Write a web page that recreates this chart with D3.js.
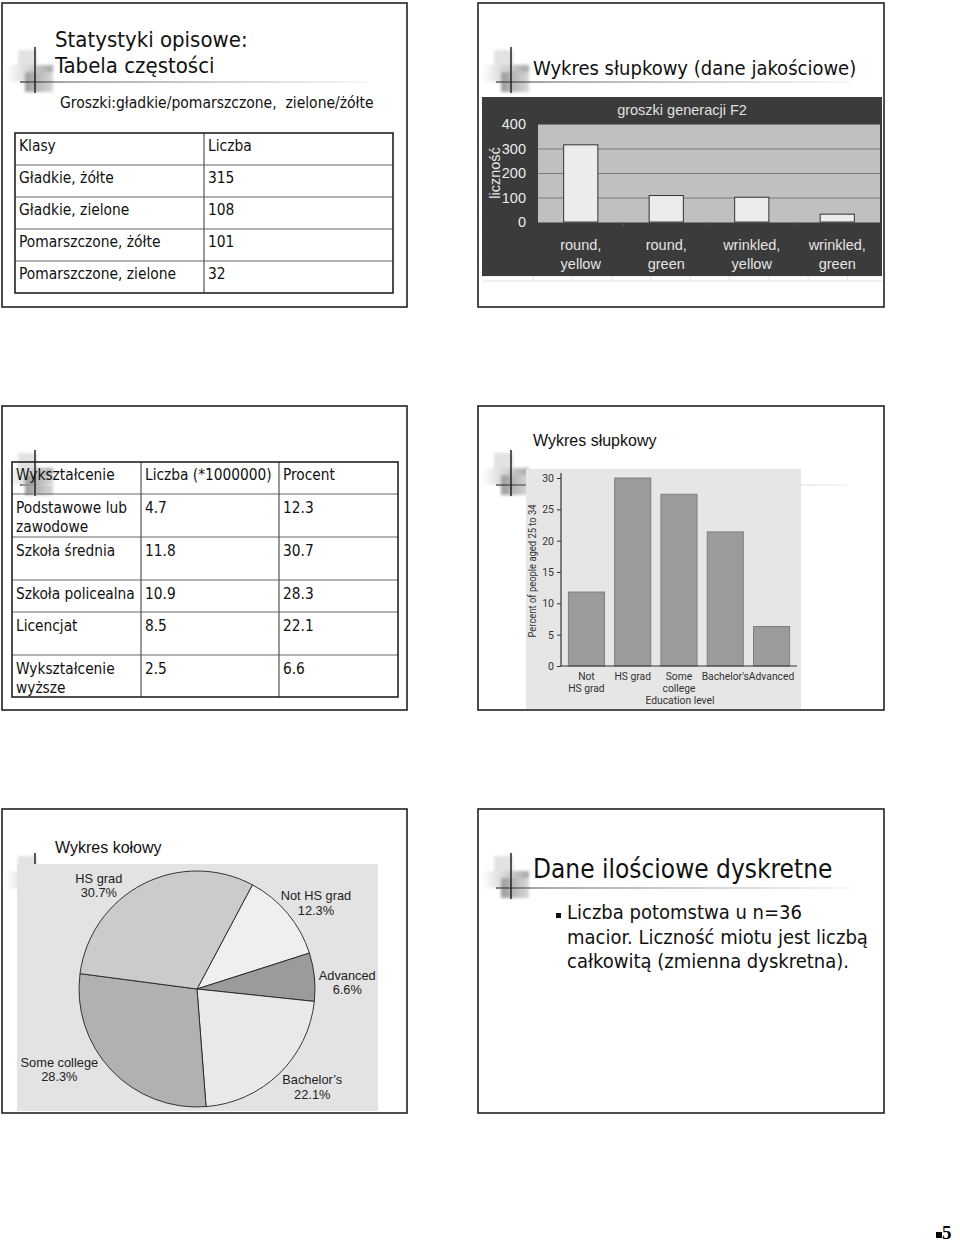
<!DOCTYPE html>
<html><head><meta charset="utf-8">
<script src="https://cdn.jsdelivr.net/npm/d3@7"></script>
<style>body{margin:0;background:#fff}svg{display:block}</style>
</head><body>
<svg id="c" width="960" height="1242"></svg>
<script>
// ---------- data ----------
const peaClassHeader = ["Klasy", "Liczba"];
const peaClasses = ["Gładkie, żółte", "Gładkie, zielone", "Pomarszczone, żółte", "Pomarszczone, zielone"];
const peaCounts = [315, 108, 101, 32];
const peaBarLabels = [["round,", "yellow"], ["round,", "green"], ["wrinkled,", "yellow"], ["wrinkled,", "green"]];
const peaTicks = [0, 100, 200, 300, 400];

const eduHeader = ["Wykształcenie", "Liczba (*1000000)", "Procent"];
const eduRows = [["Podstawowe lub", "zawodowe"], ["Szkoła średnia"], ["Szkoła policealna"], ["Licencjat"], ["Wykształcenie", "wyższe"]];
const eduCounts = ["4.7", "11.8", "10.9", "8.5", "2.5"];
const eduPercents = ["12.3", "30.7", "28.3", "22.1", "6.6"];

const barLevels = [["Not", "HS grad"], ["HS grad"], ["Some", "college"], ["Bachelor's"], ["Advanced"]];
const barValues = [11.8, 30.0, 27.4, 21.4, 6.3];
const barTicks = [0, 5, 10, 15, 20, 25, 30];

const pieNames = ["Not HS grad", "Advanced", "Bachelor’s", "Some college", "HS grad"];
const pieValues = [12.3, 6.6, 22.1, 28.3, 30.7];
const pieColors = ["#efefef", "#9b9b9b", "#e9e9e9", "#b1b1b1", "#cbcbcb"];

const discreteTitle = "Dane ilościowe dyskretne";
const discreteText = ["Liczba potomstwa u n=36", "macior. Liczność miotu jest liczbą", "całkowitą (zmienna dyskretna)."];

// ---------- fonts ----------
const TAH = "'DejaVu Sans Condensed','DejaVu Sans',sans-serif";
const ARI = "'Liberation Sans',Arial,sans-serif";
const MYR = "Roboto,'Liberation Sans',Arial,sans-serif";

const svg = d3.select("#c");
const defs = svg.append("defs");
defs.append("filter").attr("id", "blur").attr("x", "-20%").attr("y", "-20%").attr("width", "140%").attr("height", "140%")
  .append("feGaussianBlur").attr("stdDeviation", 1.6);
const g1 = defs.append("linearGradient").attr("id", "fadeLine");
g1.append("stop").attr("offset", "0").attr("stop-color", "#333");
g1.append("stop").attr("offset", "0.15").attr("stop-color", "#777");
g1.append("stop").attr("offset", "1").attr("stop-color", "#f2f2f2");
const g2 = defs.append("linearGradient").attr("id", "fadeBand");
g2.append("stop").attr("offset", "0").attr("stop-color", "#fff");
g2.append("stop").attr("offset", "1").attr("stop-color", "#a8a8a8");
const g3 = defs.append("linearGradient").attr("id", "fadeDark");
g3.append("stop").attr("offset", "0").attr("stop-color", "#9c9c9c");
g3.append("stop").attr("offset", "1").attr("stop-color", "#d8d8d8");

function frame(x, y, w, h) {
  svg.append("rect").attr("x", x).attr("y", y).attr("width", w).attr("height", h)
    .attr("fill", "none").attr("stroke", "#222").attr("stroke-width", 1.6);
}
function decor(vx, hy, x2) {
  const d = svg.append("g");
  const b = d.append("g").attr("filter", "url(#blur)");
  b.append("rect").attr("x", vx - 17).attr("y", hy - 32).attr("width", 19).attr("height", 22).attr("fill", "#e2e2e2");
  b.append("rect").attr("x", vx - 29).attr("y", hy - 17).attr("width", 47).attr("height", 17).attr("fill", "url(#fadeBand)");
  b.append("rect").attr("x", vx - 10).attr("y", hy - 10).attr("width", 28).attr("height", 20).attr("fill", "url(#fadeDark)");
  d.append("rect").attr("x", vx - 15).attr("y", hy - 0.6).attr("width", x2 - vx + 15).attr("height", 1.2).attr("fill", "url(#fadeLine)");
  d.append("line").attr("x1", vx).attr("x2", vx).attr("y1", hy - 35).attr("y2", hy + 11).attr("stroke", "#222").attr("stroke-width", 1.5);
}
function text(x, y, s, size, font, opts = {}) {
  return svg.append("text").attr("x", x).attr("y", y).text(s)
    .attr("font-size", size).attr("font-family", font)
    .attr("fill", opts.fill || "#111").attr("text-anchor", opts.anchor || "start");
}

// ================= Slide 1 =================
frame(2, 3, 405, 304);
decor(35, 82, 367);
text(55, 47, "Statystyki opisowe:", 22, TAH);
text(55, 73, "Tabela częstości", 22, TAH);
text(60, 108, "Groszki:gładkie/pomarszczone,\u00a0 zielone/żółte", 15.5, TAH);
{
  const rows = [peaClassHeader].concat(peaClasses.map((c, i) => [c, String(peaCounts[i])]));
  const ry = d3.scaleBand().domain(d3.range(rows.length)).range([133, 293]);
  const cx = [15, 204, 393];
  const t = svg.append("g");
  ry.domain().slice(1).forEach(i => t.append("line").attr("x1", 15).attr("x2", 393).attr("y1", ry(i)).attr("y2", ry(i)).attr("stroke", "#666").attr("stroke-width", 1.2));
  t.append("line").attr("x1", 204).attr("x2", 204).attr("y1", 133).attr("y2", 293).attr("stroke", "#555").attr("stroke-width", 1.2);
  t.append("rect").attr("x", 15).attr("y", 133).attr("width", 378).attr("height", 160).attr("fill", "none").attr("stroke", "#222").attr("stroke-width", 1.6);
  rows.forEach((r, i) => r.forEach((s, j) => text(cx[j] + 4, ry(i) + 18, s, 15.4, TAH)));
}

// ================= Slide 2 =================
frame(478, 3, 406, 304);
decor(511, 82, 850);
text(533, 75, "Wykres słupkowy (dane jakościowe)", 20, TAH);
{
  const sg = svg.append("g").attr("stroke", "#e4e4e4");
  [276, 281].forEach(y => sg.append("line").attr("x1", 482).attr("x2", 882).attr("y1", y).attr("y2", y));
  d3.range(9).forEach(i => { const x = 533 + i * 39.3; sg.append("line").attr("x1", x).attr("x2", x).attr("y1", 276).attr("y2", 282); });
  [104, 128, 152, 176, 200, 224, 248, 272].forEach(y => sg.append("line").attr("x1", 479).attr("x2", 482).attr("y1", y).attr("y2", y));

  svg.append("rect").attr("x", 482).attr("y", 97).attr("width", 400).attr("height", 179).attr("fill", "#3b3b3b");
  const x = d3.scaleBand().domain(d3.range(peaCounts.length)).range([538, 880]).paddingInner(0.6).paddingOuter(0.3);
  const y = d3.scaleLinear().domain([0, 400]).range([222, 124]);
  svg.append("rect").attr("x", 538).attr("y", y(400)).attr("width", 342).attr("height", y(0) - y(400)).attr("fill", "#c0c0c0");
  const ax = svg.append("g").attr("transform", "translate(538,0)")
    .call(d3.axisLeft(y).tickValues(peaTicks).tickSize(-342).tickPadding(12));
  ax.select(".domain").remove();
  ax.selectAll(".tick line").attr("stroke", "#7a7a7a").attr("stroke-width", 1);
  ax.selectAll(".tick text").attr("fill", "#ececec").attr("font-size", 14.5).attr("font-family", ARI);
  d3.range(1, peaCounts.length).forEach(i => {
    const sx = x(i) - x.step() * x.paddingInner() / 2;
    svg.append("line").attr("x1", sx).attr("x2", sx).attr("y1", 222).attr("y2", 226).attr("stroke", "#555");
  });
  svg.append("g").selectAll("rect").data(peaCounts).join("rect")
    .attr("x", (d, i) => x(i)).attr("y", d => y(d)).attr("width", x.bandwidth()).attr("height", d => y(0) - y(d))
    .attr("fill", "#ececec").attr("stroke", "#333").attr("stroke-width", 1);
  peaBarLabels.forEach((ls, i) => ls.forEach((s, k) =>
    text(x(i) + x.bandwidth() / 2, 250 + k * 18.5, s, 14.5, ARI, { fill: "#e4e4e4", anchor: "middle" })));
  text(682, 115, "groszki generacji F2", 14.5, ARI, { fill: "#e0e0e0", anchor: "middle" });
  text(0, 0, "liczność", 14.5, ARI, { fill: "#e6e6e6", anchor: "middle" })
    .attr("transform", "translate(500,173) rotate(-90)");
}

// ================= Slide 3 =================
frame(2, 406, 405, 304);
decor(35, 485, 52);
{
  const edges = [462, 494, 537, 580, 612, 655, 697];
  const cols = [12, 141, 279, 398];
  const t = svg.append("g");
  edges.slice(1, -1).forEach(e => t.append("line").attr("x1", 12).attr("x2", 398).attr("y1", e).attr("y2", e).attr("stroke", "#666").attr("stroke-width", 1.2));
  cols.slice(1, -1).forEach(c => t.append("line").attr("x1", c).attr("x2", c).attr("y1", 462).attr("y2", 697).attr("stroke", "#555").attr("stroke-width", 1.2));
  t.append("rect").attr("x", 12).attr("y", 462).attr("width", 386).attr("height", 235).attr("fill", "none").attr("stroke", "#222").attr("stroke-width", 1.6);
  eduHeader.forEach((s, j) => text(cols[j] + 4, 480, s, 15.3, TAH));
  eduRows.forEach((lines, i) => {
    const top = edges[i + 1];
    lines.forEach((s, k) => text(16, top + 19 + k * 18.5, s, 15.3, TAH));
    text(cols[1] + 4, top + 19, eduCounts[i], 15.3, TAH);
    text(cols[2] + 4, top + 19, eduPercents[i], 15.3, TAH);
  });
}

// ================= Slide 4 =================
frame(478, 406, 406, 304);
decor(511, 485, 848);
text(533, 446, "Wykres słupkowy", 16, ARI);
{
  svg.append("rect").attr("x", 526).attr("y", 469).attr("width", 275).attr("height", 240).attr("fill", "#e6e6e6");
  const x = d3.scaleBand().domain(d3.range(barValues.length)).range([561, 797]).paddingInner(0.22).paddingOuter(0.16);
  const y = d3.scaleLinear().domain([0, 30]).range([666, 478]);
  svg.append("g").selectAll("rect").data(barValues).join("rect")
    .attr("x", (d, i) => x(i)).attr("y", d => y(d)).attr("width", x.bandwidth()).attr("height", d => y(0) - y(d))
    .attr("fill", "#9b9b9b").attr("stroke", "#7f7f7f").attr("stroke-width", 1);
  const ax = svg.append("g").attr("transform", "translate(561,0)")
    .call(d3.axisLeft(y).tickValues(barTicks).tickSize(4).tickPadding(3));
  ax.select(".domain").remove();
  ax.selectAll(".tick line").attr("stroke", "#333");
  ax.selectAll(".tick text").attr("fill", "#333").attr("font-size", 10.5).attr("font-family", MYR);
  svg.append("line").attr("x1", 561).attr("x2", 561).attr("y1", y(0)).attr("y2", y(30) - 5).attr("stroke", "#333").attr("stroke-width", 1.2);
  svg.append("line").attr("x1", 561).attr("x2", 797).attr("y1", y(0)).attr("y2", y(0)).attr("stroke", "#333").attr("stroke-width", 1.2);
  barLevels.forEach((ls, i) => ls.forEach((s, k) =>
    text(x(i) + x.bandwidth() / 2, 680 + k * 11.5, s, 10.3, MYR, { fill: "#333", anchor: "middle" })));
  text(680, 704, "Education level", 10.3, MYR, { fill: "#333", anchor: "middle" });
  text(0, 0, "Percent of people aged 25 to 34", 10.3, MYR, { fill: "#333", anchor: "middle" })
    .attr("textLength", 133).attr("lengthAdjust", "spacingAndGlyphs")
    .attr("transform", "translate(536,571) rotate(-90)");
}

// ================= Slide 5 =================
frame(2, 809, 405, 304);
decor(35, 888, 360);
text(55, 853, "Wykres kołowy", 16, ARI);
{
  svg.append("rect").attr("x", 17).attr("y", 864).attr("width", 361).attr("height", 247).attr("fill", "#e3e3e3");
  const cx = 197, cy = 989, r = 118;
  const start = 28 * Math.PI / 180;
  const pie = d3.pie().sort(null).value(d => d).startAngle(start).endAngle(start + 2 * Math.PI);
  const arc = d3.arc().innerRadius(0).outerRadius(r);
  svg.append("g").attr("transform", `translate(${cx},${cy})`)
    .selectAll("path").data(pie(pieValues)).join("path")
    .attr("d", arc).attr("fill", (d, i) => pieColors[i]).attr("stroke", "#222").attr("stroke-width", 0.9);
  const lab = d3.arc().innerRadius(r * 1.28).outerRadius(r * 1.28);
  const nudges = [[3, 8], [0, 6], [10, -13], [-28, -26], [-29, 28]];
  pie(pieValues).forEach((d, i) => {
    const [lx, ly] = lab.centroid(d);
    const px = cx + lx + nudges[i][0], py = cy + ly + nudges[i][1];
    text(px, py, pieNames[i], 12.8, ARI, { fill: "#222", anchor: "middle" });
    text(px, py + 14.5, pieValues[i].toFixed(1) + "%", 12.8, ARI, { fill: "#222", anchor: "middle" });
  });
}

// ================= Slide 6 =================
frame(478, 809, 406, 304);
decor(511, 888, 850);
text(533, 878, discreteTitle, 26, TAH);
svg.append("rect").attr("x", 556).attr("y", 913).attr("width", 5).attr("height", 5).attr("fill", "#111");
discreteText.forEach((s, i) => text(567, 919 + i * 24.5, s, 20, TAH));

// page number
svg.append("rect").attr("x", 936).attr("y", 1232).attr("width", 6).attr("height", 6).attr("fill", "#000");
text(942, 1239, "5", 19, "'Liberation Serif',serif", { fill: "#000" }).attr("font-weight", "bold");
</script>
</body></html>
